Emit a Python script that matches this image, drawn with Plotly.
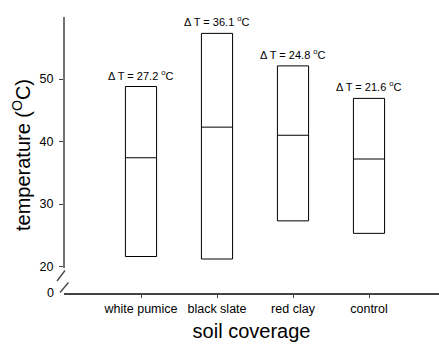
import plotly.graph_objects as go

categories = ["white pumice", "black slate", "red clay", "control"]
t_max = [48.8, 57.3, 52.1, 46.9]
t_min = [21.6, 21.2, 27.3, 25.3]
t_mean = [37.4, 42.3, 41.0, 37.2]
delta_t = [27.2, 36.1, 24.8, 21.6]
y_ticks = [20, 30, 40, 50]

xpos = list(range(len(categories)))
FONT = "Arial, Liberation Sans, sans-serif"
AX = "#444444"

fig = go.Figure()
fig.add_trace(go.Box(
    x=xpos, q1=t_min, median=t_mean, q3=t_max,
    lowerfence=t_min, upperfence=t_max,
    width=0.41, whiskerwidth=0,
    fillcolor="white", line=dict(color="black", width=1),
    showlegend=False, hoverinfo="skip",
))

for xi, top, d in zip(xpos, t_max, delta_t):
    fig.add_annotation(x=xi, y=top, xref="x", yref="y",
                       text=f"\u0394 T = {d:.1f} <sup>o</sup>C",
                       showarrow=False, yanchor="bottom", yshift=3,
                       font=dict(size=11, color="black", family=FONT))

# plot area in pixels: left 64, right 439, top 17, bottom 293
W, H = 439, 345
L, R, T, B = 64, 439, 17, 293
pw, ph = R - L, B - T
def px(x):
    return (x - L) / pw
def py(y):
    return (B - y) / ph

shapes = [
    # upper y-axis segment
    dict(type="line", xref="paper", yref="paper", x0=0, x1=0, y0=py(268), y1=1,
         line=dict(color=AX, width=1.5)),
    # break slashes
    dict(type="line", xref="paper", yref="paper", x0=px(57), x1=px(65), y0=py(281), y1=py(270.5),
         line=dict(color=AX, width=1.3)),
    dict(type="line", xref="paper", yref="paper", x0=px(60), x1=px(68.5), y0=py(292.5), y1=py(282.5),
         line=dict(color=AX, width=1.3)),
]
fig.update_layout(shapes=shapes)

fig.add_annotation(x=px(55.5), y=0, xref="paper", yref="paper", text="0",
                   showarrow=False, xanchor="right", yanchor="middle",
                   font=dict(size=12.5, color="black", family=FONT))

ylo = 50 - (B - 79) / 6.25
yhi = 50 + (79 - T) / 6.25
xlo = -(141 - L) / 76
xhi = (R - 141) / 76

fig.update_layout(
    width=W, height=H,
    margin=dict(l=L, r=W - R, t=T, b=H - B, pad=0),
    plot_bgcolor="white", paper_bgcolor="white",
    font=dict(family=FONT, color="black"),
    xaxis=dict(range=[xlo, xhi], tickmode="array", tickvals=xpos, ticktext=categories,
               showline=True, linecolor=AX, linewidth=1.5,
               ticks="outside", ticklen=3, tickcolor=AX, tickwidth=1,
               showgrid=False, zeroline=False,
               tickfont=dict(size=12.5, color="black"),
               title=dict(text="soil coverage", font=dict(size=20, color="black"), standoff=9)),
    yaxis=dict(range=[ylo, yhi], tickmode="array", tickvals=y_ticks,
               showline=False, ticks="outside", ticklen=4, tickcolor=AX, tickwidth=1,
               ticklabelstandoff=3,
               showgrid=False, zeroline=False,
               tickfont=dict(size=12.5, color="black"),
               title=dict(text="temperature (<sup>O</sup>C)", font=dict(size=20, color="black"), standoff=3)),
)

fig.write_html("out.html")
